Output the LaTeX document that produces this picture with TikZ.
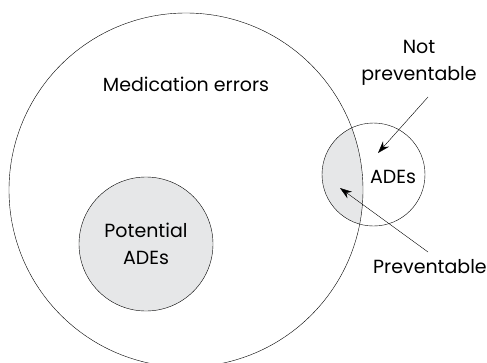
\documentclass[tikz,border=0pt]{standalone}
\usepackage{fontspec}
\setsansfont{Poppins}
\usetikzlibrary{arrows.meta, positioning}

\definecolor{lensgray}{RGB}{230,231,232}

\begin{document}
\begin{tikzpicture}[
        x=1pt, y=-1pt,
        font=\sffamily\fontsize{19}{27}\selectfont,
        thin,
        >={Stealth[length=12pt, width=8pt]},
        venn/.style={circle, draw, inner sep=0pt}
    ]
    \useasboundingbox (0,0) rectangle (487,362);

    % Shaded overlap (preventable ADEs)
    \begin{scope}
        \clip (373.5,174.5) circle (51.5);
        \fill[lensgray] (186,190) circle (177);
    \end{scope}

    % Sets
    \node[venn, minimum size=354pt] (errors) at (186,190) {};
    \node[venn, fill=lensgray, minimum size=134pt] (potential) at (146,244) {};
    \node[venn, minimum size=103pt] (ades) at (373.5,174.5) {};

    % Labels
    \node (errlabel) at (186,84) {Medication errors};
    \node[align=center] (potlabel) at (potential) {Potential\\ADEs};
    \node (adelabel) at (393,177) {ADEs};
    \node[align=center] (notprev) at (419,63) {Not\\preventable};
    \node (prev) at (430,267) {Preventable};

    % Pointers
    \coordinate (npstart) at (428,97);
    \coordinate (nptip) at (378,153);
    \coordinate (pstart) at (428,252);
    \coordinate (ptip) at (340,188);
    \draw[->] (npstart) -- (nptip);
    \draw[->] (pstart) -- (ptip);

\end{tikzpicture}
\end{document}
